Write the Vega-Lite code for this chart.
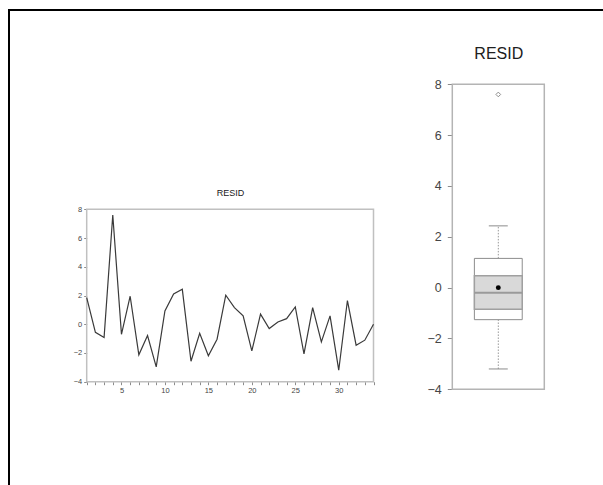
{
  "$schema": "https://vega.github.io/schema/vega-lite/v6.json",
  "width": 606,
  "height": 487,
  "padding": {"left": 9, "top": 10, "right": -12, "bottom": -12},
  "autosize": {"type": "none"},
  "background": "white",
  "view": {"stroke": "black", "strokeWidth": 2, "fill": "white"},
  "config": {
    "font": "Liberation Sans",
    "axis": {"grid": false, "domain": false, "labelColor": "#454545", "tickColor": "#8c8c8c", "titleFontWeight": "normal", "titleColor": "#202020"}
  },
  "datasets": {
    "resid": [
      {"t": 1, "resid": 1.85}, {"t": 2, "resid": -0.56}, {"t": 3, "resid": -0.93}, {"t": 4, "resid": 7.6},
      {"t": 5, "resid": -0.7}, {"t": 6, "resid": 1.95}, {"t": 7, "resid": -2.13}, {"t": 8, "resid": -0.79},
      {"t": 9, "resid": -2.97}, {"t": 10, "resid": 0.93}, {"t": 11, "resid": 2.1}, {"t": 12, "resid": 2.43},
      {"t": 13, "resid": -2.58}, {"t": 14, "resid": -0.63}, {"t": 15, "resid": -2.2}, {"t": 16, "resid": -1.04},
      {"t": 17, "resid": 2.02}, {"t": 18, "resid": 1.16}, {"t": 19, "resid": 0.58}, {"t": 20, "resid": -1.86},
      {"t": 21, "resid": 0.7}, {"t": 22, "resid": -0.3}, {"t": 23, "resid": 0.16}, {"t": 24, "resid": 0.39},
      {"t": 25, "resid": 1.2}, {"t": 26, "resid": -2.07}, {"t": 27, "resid": 1.16}, {"t": 28, "resid": -1.23},
      {"t": 29, "resid": 0.58}, {"t": 30, "resid": -3.2}, {"t": 31, "resid": 1.65}, {"t": 32, "resid": -1.46},
      {"t": 33, "resid": -1.11}, {"t": 34, "resid": 0.0}
    ],
    "summary": [
      {"series": "RESID", "q1": -1.26, "q3": 1.15, "median": -0.2, "ci_lo": -0.85, "ci_hi": 0.47, "mean": 0.0, "lower": -3.2, "upper": 2.43}
    ]
  },
  "layer": [
    {
      "layer": [
        {
          "data": {"name": "summary"},
          "mark": {"type": "rect", "fill": null, "stroke": "#c0c0c0", "strokeWidth": 1.5},
          "encoding": {
            "x": {"datum": 1, "type": "quantitative",
                  "scale": {"domain": [1, 34], "range": [77.7, 364.5], "nice": false, "zero": false},
                  "axis": {"orient": "top", "offset": -199.3, "labels": false, "ticks": false, "domain": false, "title": "RESID", "titleFontSize": 9, "titlePadding": 12}},
            "x2": {"datum": 34},
            "y": {"datum": -4, "type": "quantitative",
                  "scale": {"domain": [-4, 8], "range": [371.7, 199.3], "nice": false, "zero": false},
                  "axis": {"orient": "left", "offset": -77.7, "title": null, "values": [-4, -2, 0, 2, 4, 6, 8], "tickSize": 3, "labelFontSize": 7.5, "labelPadding": 2}},
            "y2": {"datum": 8}
          }
        },
        {
          "data": {"name": "resid"},
          "mark": {"type": "line", "color": "#3a3a3a", "strokeWidth": 1.2},
          "encoding": {
            "x": {"field": "t", "type": "quantitative",
                  "scale": {"domain": [1, 34], "range": [77.7, 364.5], "nice": false, "zero": false},
                  "axis": {"orient": "bottom", "offset": -115.3, "title": null, "values": [1,2,3,4,5,6,7,8,9,10,11,12,13,14,15,16,17,18,19,20,21,22,23,24,25,26,27,28,29,30,31,32,33,34],
                           "labelExpr": "datum.value % 5 === 0 ? datum.label : ''", "tickSize": 3, "labelFontSize": 7.5, "labelPadding": 2, "labelFlush": false, "labelOverlap": false}},
            "y": {"field": "resid", "type": "quantitative",
                  "scale": {"domain": [-4, 8], "range": [371.7, 199.3], "nice": false, "zero": false},
                  "axis": {"orient": "left", "offset": -77.7, "title": null, "values": [-4, -2, 0, 2, 4, 6, 8], "tickSize": 3, "labelFontSize": 7.5, "labelPadding": 2}}
          }
        }
      ]
    },
    {
      "layer": [
        {
          "data": {"name": "summary"},
          "mark": {"type": "rect", "fill": null, "stroke": "#b4b4b4", "strokeWidth": 1.5},
          "encoding": {
            "x": {"datum": 0, "type": "quantitative",
                  "scale": {"domain": [0, 1], "range": [443.3, 535.3], "nice": false, "zero": false},
                  "axis": {"orient": "top", "offset": -74.3, "labels": false, "ticks": false, "domain": false, "title": "RESID", "titleFontSize": 16, "titlePadding": 23}},
            "x2": {"datum": 1},
            "y": {"datum": -4, "type": "quantitative",
                  "scale": {"domain": [-4, 8], "range": [379.3, 74.3], "nice": false, "zero": false},
                  "axis": {"orient": "left", "offset": -443.3, "title": null, "values": [-4, -2, 0, 2, 4, 6, 8], "tickSize": 5, "labelFontSize": 12.5, "labelPadding": 6}},
            "y2": {"datum": 8}
          }
        },
        {
          "data": {"name": "summary"},
          "mark": {"type": "rule", "stroke": "#999999", "strokeWidth": 1, "strokeDash": [1.5, 1.5]},
          "encoding": {
            "x": {"datum": 0.5, "type": "quantitative"},
            "y": {"field": "q3", "type": "quantitative"},
            "y2": {"field": "upper"}
          }
        },
        {
          "data": {"name": "summary"},
          "mark": {"type": "rule", "stroke": "#999999", "strokeWidth": 1, "strokeDash": [1.5, 1.5]},
          "encoding": {
            "x": {"datum": 0.5, "type": "quantitative"},
            "y": {"field": "lower", "type": "quantitative"},
            "y2": {"field": "q1"}
          }
        },
        {
          "data": {"name": "summary"},
          "mark": {"type": "rule", "stroke": "#8c8c8c", "strokeWidth": 1},
          "encoding": {
            "x": {"datum": 0.397, "type": "quantitative"},
            "x2": {"datum": 0.603},
            "y": {"field": "upper", "type": "quantitative"}
          }
        },
        {
          "data": {"name": "summary"},
          "mark": {"type": "rule", "stroke": "#8c8c8c", "strokeWidth": 1},
          "encoding": {
            "x": {"datum": 0.397, "type": "quantitative"},
            "x2": {"datum": 0.603},
            "y": {"field": "lower", "type": "quantitative"}
          }
        },
        {
          "data": {"name": "summary"},
          "mark": {"type": "rect", "fill": "white", "stroke": "#8c8c8c", "strokeWidth": 1},
          "encoding": {
            "x": {"datum": 0.24, "type": "quantitative"},
            "x2": {"datum": 0.76},
            "y": {"field": "q1", "type": "quantitative"},
            "y2": {"field": "q3"}
          }
        },
        {
          "data": {"name": "summary"},
          "mark": {"type": "rect", "fill": "#d9d9d9", "stroke": "#a0a0a0", "strokeWidth": 1.5},
          "encoding": {
            "x": {"datum": 0.24, "type": "quantitative"},
            "x2": {"datum": 0.76},
            "y": {"field": "ci_lo", "type": "quantitative"},
            "y2": {"field": "ci_hi"}
          }
        },
        {
          "data": {"name": "summary"},
          "mark": {"type": "rule", "stroke": "#9a9a9a", "strokeWidth": 2},
          "encoding": {
            "x": {"datum": 0.24, "type": "quantitative"},
            "x2": {"datum": 0.76},
            "y": {"field": "median", "type": "quantitative"}
          }
        },
        {
          "data": {"name": "summary"},
          "mark": {"type": "point", "filled": true, "color": "black", "size": 24, "opacity": 1},
          "encoding": {
            "x": {"datum": 0.5, "type": "quantitative"},
            "y": {"field": "mean", "type": "quantitative"}
          }
        },
        {
          "data": {"name": "resid"},
          "transform": [{"filter": {"field": "resid", "gt": 4.75}}],
          "mark": {"type": "point", "shape": "diamond", "filled": false, "stroke": "#8c8c8c", "strokeWidth": 1, "size": 22, "opacity": 1},
          "encoding": {
            "x": {"datum": 0.5, "type": "quantitative"},
            "y": {"field": "resid", "type": "quantitative"}
          }
        }
      ]
    }
  ],
  "resolve": {"scale": {"x": "independent", "y": "independent"}, "axis": {"x": "independent", "y": "independent"}}
}
